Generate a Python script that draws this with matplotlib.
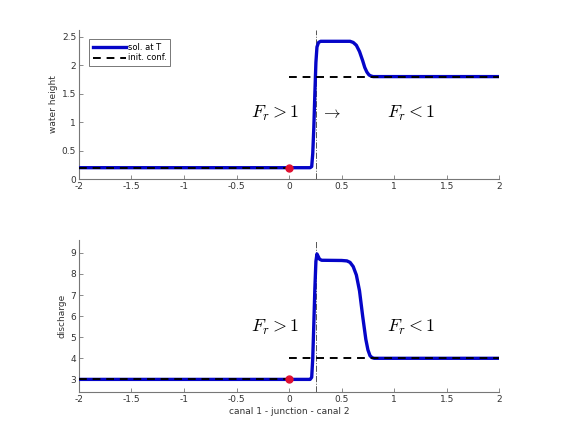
import matplotlib
matplotlib.use("Agg")
import matplotlib.pyplot as plt

plt.rcParams['mathtext.fontset'] = 'cm'
plt.rcParams['font.family'] = ['DejaVu Sans']

# solution at final time T (water height)
x_sol_h = [-2.0, 0.20, 0.215, 0.225, 0.235, 0.245, 0.255, 0.265, 0.28, 0.30, 0.50, 0.58, 0.61, 0.64, 0.67, 0.70, 0.72, 0.74, 0.76, 0.78, 0.80, 2.0]
h_sol = [0.2, 0.2, 0.22, 0.45, 0.9, 1.5, 2.05, 2.32, 2.40, 2.42, 2.42, 2.42, 2.40, 2.35, 2.24, 2.08, 1.96, 1.88, 1.83, 1.81, 1.80, 1.80]
# solution at final time T (discharge)
x_sol_q = [-2.0, 0.20, 0.215, 0.225, 0.235, 0.245, 0.255, 0.265, 0.275, 0.29, 0.31, 0.50, 0.55, 0.58, 0.61, 0.64, 0.67, 0.70, 0.73, 0.75, 0.77, 0.79, 0.81, 2.0]
q_sol = [3.0, 3.0, 3.1, 4.0, 5.6, 7.3, 8.6, 8.95, 8.85, 8.7, 8.65, 8.64, 8.62, 8.55, 8.35, 7.95, 7.2, 6.0, 4.9, 4.4, 4.12, 4.03, 4.0, 4.0]

# initial configuration
x_init_left = [-2.0, 0.0]
x_init_right = [0.0, 2.0]
h_init_left = [0.2, 0.2]
h_init_right = [1.8, 1.8]
q_init_left = [3.0, 3.0]
q_init_right = [4.0, 4.0]

junction_x = 0.0
junction_h = 0.2
junction_q = 3.0
interface_x = 0.255

xticks = [-2, -1.5, -1, -0.5, 0, 0.5, 1, 1.5, 2]
xticklabels = ['-2', '-1.5', '-1', '-0.5', '0', '0.5', '1', '1.5', '2']
hticks = [0, 0.5, 1, 1.5, 2, 2.5]
hticklabels = ['0', '0.5', '1', '1.5', '2', '2.5']
qticks = [3, 4, 5, 6, 7, 8, 9]
qticklabels = ['3', '4', '5', '6', '7', '8', '9']

fig = plt.figure(figsize=(5.68, 4.40), dpi=100)
ax1 = fig.add_axes([0.139, 0.593, 0.740, 0.339])
ax2 = fig.add_axes([0.139, 0.109, 0.740, 0.345])

blue = '#0505c8'
txtc = '#333333'

def style(ax):
    for s in ['top', 'right']:
        ax.spines[s].set_visible(False)
    for s in ['left', 'bottom']:
        ax.spines[s].set_color('#777777')
        ax.spines[s].set_linewidth(0.8)
    ax.tick_params(direction='in', length=3, width=0.6, color='#777777', labelsize=6.5, labelcolor=txtc, pad=2)
    ax.set_xlim(-2, 2)
    ax.set_xticks(xticks)
    ax.set_xticklabels(xticklabels)

# top
style(ax1)
ax1.plot(x_sol_h, h_sol, color=blue, lw=2.4, solid_joinstyle='round', label='sol. at T', zorder=3)
ax1.plot(x_init_left, h_init_left, color='black', lw=1.4, ls=(0, (4, 3)), label='init. conf.', zorder=4)
ax1.plot(x_init_right, h_init_right, color='black', lw=1.4, ls=(0, (4, 3)), zorder=4)
ax1.axvline(interface_x, color='#555555', lw=0.7, ls='-.', zorder=2)
ax1.plot([junction_x], [junction_h], 'o', color='#e01030', ms=5, zorder=5)
ax1.set_ylim(0, 2.62)
ax1.set_yticks(hticks)
ax1.set_yticklabels(hticklabels)
ax1.set_ylabel('water height', fontsize=6.5, color=txtc, labelpad=3)
ax1.text(-0.13, 1.16, r'$F_r > 1$', fontsize=13, ha='center', va='center')
ax1.text(0.40, 1.16, r'$\rightarrow$', fontsize=12, ha='center', va='center')
ax1.text(1.16, 1.16, r'$F_r < 1$', fontsize=13, ha='center', va='center')
leg = ax1.legend(loc='upper left', bbox_to_anchor=(0.02, 0.95), fontsize=6, frameon=True, fancybox=False,
                 handlelength=4, handletextpad=0.2, borderpad=0.45, labelspacing=0.2, borderaxespad=0.2)
leg.get_frame().set_edgecolor('#555555')
leg.get_frame().set_linewidth(0.7)

# bottom
style(ax2)
ax2.plot(x_sol_q, q_sol, color=blue, lw=2.4, solid_joinstyle='round', zorder=3)
ax2.plot(x_init_left, q_init_left, color='black', lw=1.4, ls=(0, (4, 3)), zorder=4)
ax2.plot(x_init_right, q_init_right, color='black', lw=1.4, ls=(0, (4, 3)), zorder=4)
ax2.axvline(interface_x, color='#555555', lw=0.7, ls='-.', zorder=2)
ax2.plot([junction_x], [junction_q], 'o', color='#e01030', ms=5, zorder=5)
ax2.set_ylim(2.4, 9.6)
ax2.set_yticks(qticks)
ax2.set_yticklabels(qticklabels)
ax2.set_ylabel('discharge', fontsize=6.5, color=txtc, labelpad=3)
ax2.set_xlabel('canal 1 - junction - canal 2', fontsize=6.5, color=txtc, labelpad=2)
ax2.text(-0.13, 5.45, r'$F_r > 1$', fontsize=13, ha='center', va='center')
ax2.text(1.16, 5.45, r'$F_r < 1$', fontsize=13, ha='center', va='center')

fig.savefig('out.png', dpi=100)
